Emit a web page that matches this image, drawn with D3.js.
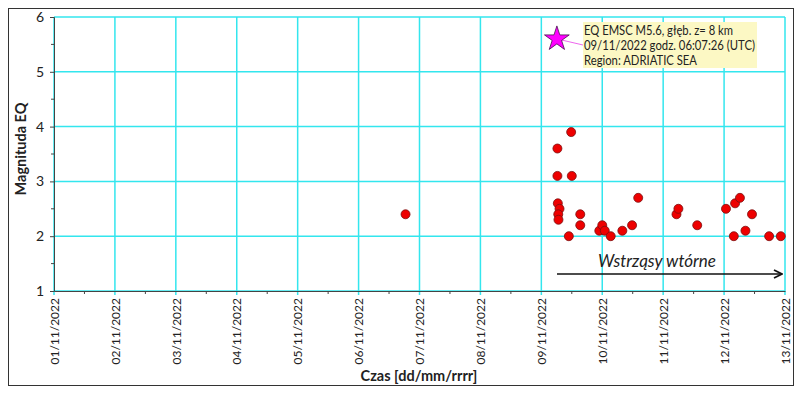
<!doctype html>
<html lang="pl">
<head>
  <meta charset="utf-8">
  <title>Magnituda EQ</title>
  <script src="https://d3js.org/d3.v7.min.js"></script>
<style>
body { margin: 0; background: #fff; }
svg text { font-family: Lato, "Open Sans", sans-serif; fill: #222; }
</style>
</head>
<body>
<svg id="chart" width="800" height="394"></svg>

<script>

  // aftershocks: time (UTC) and magnitude
  let times = [
    "2022-11-06T18:30", "2022-11-09T06:20", "2022-11-09T06:20", "2022-11-09T06:30",
    "2022-11-09T07:10", "2022-11-09T06:40", "2022-11-09T06:45", "2022-11-09T10:50",
    "2022-11-09T11:45", "2022-11-09T12:00", "2022-11-09T15:20", "2022-11-09T15:20",
    "2022-11-09T22:50", "2022-11-10T00:00", "2022-11-10T01:00", "2022-11-10T03:20",
    "2022-11-10T07:55", "2022-11-10T11:45", "2022-11-10T14:10", "2022-11-11T05:15",
    "2022-11-11T06:00", "2022-11-11T13:25", "2022-11-12T00:45", "2022-11-12T03:50",
    "2022-11-12T04:20", "2022-11-12T06:15", "2022-11-12T08:25", "2022-11-12T11:00",
    "2022-11-12T17:45", "2022-11-12T22:20"
  ];
  let mags = [
    2.4, 3.6, 3.1, 2.6,
    2.5, 2.4, 2.3, 2.0,
    3.9, 3.1, 2.4, 2.2,
    2.1, 2.2, 2.1, 2.0,
    2.1, 2.2, 2.7, 2.4,
    2.5, 2.2, 2.5, 2.0,
    2.6, 2.7, 2.1, 2.4,
    2.0, 2.0
  ];

  // main shock
  let mainTime = "2022-11-09T06:07:26";
  let mainMag = 5.6;
  let mainLabel = [
    "EQ EMSC M5.6, głęb. z= 8 km",
    "09/11/2022 godz. 06:07:26 (UTC)",
    "Region: ADRIATIC SEA"
  ];

  let yTicks = [1, 2, 3, 4, 5, 6];
  let xStart = "2022-11-01T00:00", xEnd = "2022-11-13T00:00";

  let parse = s => new Date(s + "Z");
  let data = times.map((t, i) => ({ t: parse(t), m: mags[i] }));

  let svg = d3.select("#chart");

  // outer frame
  svg.append("rect")
    .attr("x", 8.5).attr("y", 8.5)
    .attr("width", 785).attr("height", 377)
    .attr("fill", "none").attr("stroke", "#333").attr("stroke-width", 1);

  // plot area edges (window.top is taken, hence the prefix)
  let pLeft = 54, pRight = 785, pTop = 17, pBottom = 291;

  let x = d3.scaleUtc()
    .domain([parse(xStart), parse(xEnd)])
    .range([pLeft, pRight]);
  let y = d3.scaleLinear()
    .domain([1, 6])
    .range([pBottom, pTop]);

  let days = d3.utcDay.range(parse(xStart), d3.utcDay.offset(parse(xEnd), 1));

  // grid
  let grid = svg.append("g");
  grid.selectAll(".gx").data(days).enter().append("line")
    .attr("x1", d => x(d)).attr("x2", d => x(d))
    .attr("y1", pTop).attr("y2", pBottom + 4)
    .attr("stroke", "#33e6ee").attr("stroke-width", 1.5);
  grid.selectAll(".gy").data(yTicks).enter().append("line")
    .attr("x1", pLeft).attr("x2", pRight)
    .attr("y1", d => y(d)).attr("y2", d => y(d))
    .attr("stroke", "#33e6ee").attr("stroke-width", 1.5);

  // axes
  let yAxis = svg.append("g")
    .attr("transform", "translate(" + pLeft + ",0)")
    .call(d3.axisLeft(y).tickValues(yTicks).tickSize(4).tickFormat(d3.format("d")));
  yAxis.select(".domain").attr("stroke", "#444");
  yAxis.selectAll(".tick line").attr("stroke", "#444");
  yAxis.selectAll("text").style("font-size", "14px").attr("x", -10);

  // minor y ticks
  svg.append("g").selectAll("line")
    .data(d3.range(1.5, 6, 1)).enter().append("line")
    .attr("x1", pLeft - 3).attr("x2", pLeft)
    .attr("y1", d => y(d)).attr("y2", d => y(d))
    .attr("stroke", "#444");

  let xAxis = svg.append("g")
    .attr("transform", "translate(0," + pBottom + ")")
    .call(d3.axisBottom(x).tickValues(days).tickSize(0).tickFormat(d3.utcFormat("%d/%m/%Y")));
  xAxis.select(".domain").attr("stroke", "#444");
  xAxis.selectAll("text")
    .style("font-size", "12px")
    .attr("transform", "rotate(-90)")
    .attr("text-anchor", "end")
    .attr("dy", "0.35em")
    .attr("x", -7).attr("y", 0);

  // minor x ticks (half days)
  svg.append("g").selectAll("line")
    .data(days.slice(0, -1).map(d => d3.utcHour.offset(d, 12))).enter().append("line")
    .attr("x1", d => x(d)).attr("x2", d => x(d))
    .attr("y1", pBottom).attr("y2", pBottom + 3)
    .attr("stroke", "#444");

  // axis titles
  svg.append("text")
    .attr("transform", "translate(26," + 149 + ") rotate(-90)")
    .attr("text-anchor", "middle")
    .style("font-size", "14.5px").style("font-weight", "bold")
    .text("Magnituda EQ");
  svg.append("text")
    .attr("x", 419).attr("y", 381)
    .attr("text-anchor", "middle")
    .style("font-size", "14.5px").style("font-weight", "bold")
    .text("Czas [dd/mm/rrrr]");

  // aftershocks
  svg.append("g").selectAll("circle")
    .data(data).enter().append("circle")
    .attr("cx", d => x(d.t)).attr("cy", d => y(d.m))
    .attr("r", 4.5)
    .attr("fill", "#ee0000").attr("stroke", "#7a1010").attr("stroke-width", 0.8);

  // main shock star + label
  let sx = x(parse(mainTime)), sy = y(mainMag);
  let boxX = 583, boxY = 22, boxW = 174, boxH = 46;
  let lineW = [149, 171, 113];  // widths of the label lines in the original
  svg.append("line")
    .attr("x1", sx).attr("y1", sy).attr("x2", boxX).attr("y2", 45)
    .attr("stroke", "#ee66ee").attr("stroke-width", 1);
  svg.append("rect")
    .attr("x", boxX).attr("y", boxY).attr("width", boxW).attr("height", boxH)
    .attr("fill", "#fcf8c4");
  svg.append("g").selectAll("text")
    .data(mainLabel).enter().append("text")
    .attr("x", boxX + 1).attr("y", (d, i) => boxY + 13 + i * 15)
    .attr("textLength", (d, i) => lineW[i])
    .attr("lengthAdjust", "spacingAndGlyphs")
    .style("font-size", "13px")
    .text(d => d);
  svg.append("path")
    .attr("d", d3.symbol().type(d3.symbolStar).size(190))
    .attr("transform", "translate(" + sx + "," + sy + ")")
    .attr("fill", "#ff00ff").attr("stroke", "#4a1050").attr("stroke-width", 0.8);

  // aftershock arrow
  svg.append("defs").append("marker")
    .attr("id", "arr").attr("viewBox", "0 0 10 10")
    .attr("refX", 9).attr("refY", 5)
    .attr("markerUnits", "userSpaceOnUse")
    .attr("markerWidth", 10).attr("markerHeight", 10)
    .attr("orient", "auto")
    .append("path").attr("d", "M1,1 L9,5 L1,9")
    .attr("fill", "none").attr("stroke", "#111").attr("stroke-width", 1.8);
  svg.append("line")
    .attr("x1", 557).attr("x2", 782).attr("y1", 274).attr("y2", 274)
    .attr("stroke", "#111").attr("stroke-width", 1.3)
    .attr("marker-end", "url(#arr)");
  svg.append("text")
    .attr("x", 657).attr("y", 267)
    .attr("text-anchor", "middle")
    .style("font-size", "17px").style("font-style", "italic")
    .text("Wstrząsy wtórne");

</script>
</body>
</html>
